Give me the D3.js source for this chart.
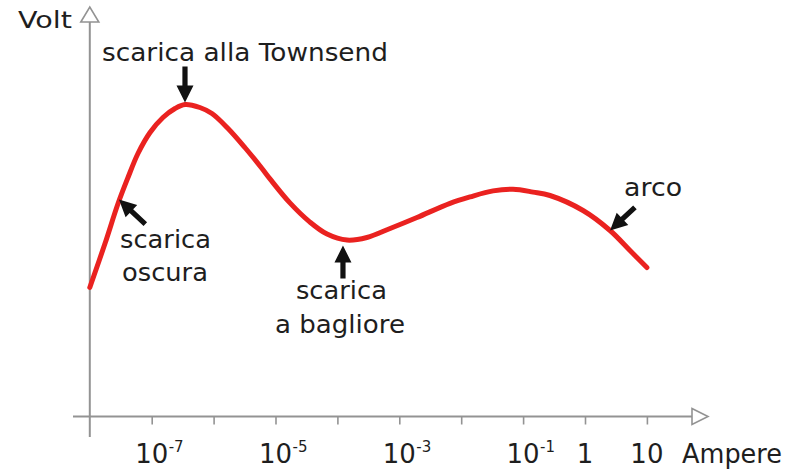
<!DOCTYPE html>
<html>
<head>
<meta charset="utf-8">
<script src="https://cdn.jsdelivr.net/npm/d3@7"></script>
<style>
  html, body { margin: 0; padding: 0; background: #fff; }
  svg { display: block; }
  text { font-family: "DejaVu Sans", sans-serif; fill: #1e1e1e; }
</style>
</head>
<body>
<svg id="chart" width="800" height="473"></svg>
<script>
// ---- Data ----
const current = [1e-8, 1.76e-8, 2.86e-8, 4.14e-8, 6.0e-8, 9.4e-8, 1.52e-7, 2.38e-7, 3.45e-7,
  6.0e-7, 9.4e-7, 1.71e-6, 3.2e-6, 6.05e-6, 8.15e-6, 1.71e-5, 3.6e-5, 6.8e-5, 1.43e-4,
  3.0e-4, 7.1e-4, 1.93e-3, 6.6e-3, 1.39e-2, 3.27e-2, 6.87e-2, 0.145, 0.272, 0.93, 2.54, 5.33, 10];
const volt = [32.25, 43.25, 53.25, 59.75, 65.75, 71, 74.75, 77, 78,
  77.25, 75.75, 72, 67.25, 62, 59.4, 53.4, 48.6, 45.6, 44.1,
  44.75, 47, 49.75, 53.3, 54.9, 56.4, 56.8, 56.1, 55.25, 51.5, 46.5, 41.5, 37.25];

const tickValues = [1e-7, 1e-6, 1e-5, 1e-4, 1e-3, 1e-2, 1e-1, 1, 10];
const labelValues = [1e-7, 1e-5, 1e-3, 1e-1, 1, 10];
const labelBase = ["10", "10", "10", "10", "1", "10"];
const labelExp = ["-7", "-5", "-3", "-1", "", ""];

const xTitle = "Ampere";
const yTitle = "Volt";

const annotCurrent = [3.45e-7, 2.96e-8, 1.23e-4, 2.54];
const annotVolt = [78.5, 54.25, 42.75, 46.5];
const annotLines = [["scarica alla Townsend"], ["scarica", "oscura"], ["scarica", "a bagliore"], ["arco"]];

// ---- Layout ----
const svg = d3.select("#chart");
const x = d3.scaleLog().domain([1e-8, 1e2]).range([89.8, 708.8]);
const y = d3.scaleLinear().domain([0, 100]).range([416.5, 16.5]);

const axisColor = "#939393";
const x0 = x(1e-8), y0 = y(0);

// x axis ticks via d3 axis
const xAxis = d3.axisBottom(x).tickValues(tickValues).tickFormat(() => "").tickSizeInner(8).tickSizeOuter(0);
const gx = svg.append("g").attr("transform", `translate(0,${y0})`).call(xAxis);
gx.select(".domain").remove();
gx.selectAll(".tick line").attr("stroke", axisColor).attr("stroke-width", 1.6);

svg.append("line").attr("x1", 73).attr("x2", 692).attr("y1", y0).attr("y2", y0)
  .attr("stroke", axisColor).attr("stroke-width", 2);
svg.append("line").attr("x1", x0).attr("x2", x0).attr("y1", 437).attr("y2", 22)
  .attr("stroke", axisColor).attr("stroke-width", 2);

// open arrowheads
svg.append("path")
  .attr("d", `M${x0 - 9},22 L${x0},7 L${x0 + 9},22 Z`)
  .attr("fill", "#fff").attr("stroke", axisColor).attr("stroke-width", 1.6);
svg.append("path")
  .attr("d", `M692,${y0 - 8} L708,${y0} L692,${y0 + 8} Z`)
  .attr("fill", "#fff").attr("stroke", axisColor).attr("stroke-width", 1.6);

// tick labels
labelValues.forEach((v, i) => {
  const cx = x(v);
  svg.append("text").attr("x", cx).attr("y", 463).attr("text-anchor", "middle")
    .attr("font-size", 26).text(labelBase[i]);
  if (labelExp[i]) {
    svg.append("text").attr("x", cx + 17).attr("y", 452).attr("text-anchor", "start")
      .attr("font-size", 15).text(labelExp[i]);
  }
});

svg.append("text").attr("x", 682).attr("y", 463).attr("font-size", 26)
  .attr("textLength", 100).attr("lengthAdjust", "spacingAndGlyphs").text(xTitle);
svg.append("text").attr("x", 18).attr("y", 28).attr("font-size", 23)
  .attr("textLength", 54).attr("lengthAdjust", "spacingAndGlyphs").text(yTitle);

// curve
const pts = current.map((c, i) => [c, volt[i]]);
const line = d3.line().x(d => x(d[0])).y(d => y(d[1])).curve(d3.curveCatmullRom.alpha(0.5));
svg.append("path").datum(pts).attr("d", line)
  .attr("fill", "none").attr("stroke", "#ea2220").attr("stroke-width", 5)
  .attr("stroke-linecap", "round").attr("stroke-linejoin", "round");

// annotation arrows
function arrow(tx, ty, angleDeg, len) {
  const a = angleDeg * Math.PI / 180;
  const ux = Math.cos(a), uy = Math.sin(a);    // direction from tip toward tail
  const px = -uy, py = ux;
  const headLen = 17, headHalf = 8.5, shaft = 2.6;
  const bx = tx + ux * headLen, by = ty + uy * headLen;
  const ex = tx + ux * len, ey = ty + uy * len;
  const p = [
    [tx, ty],
    [bx + px * headHalf, by + py * headHalf],
    [bx + px * shaft, by + py * shaft],
    [ex + px * shaft, ey + py * shaft],
    [ex - px * shaft, ey - py * shaft],
    [bx - px * shaft, by - py * shaft],
    [bx - px * headHalf, by - py * headHalf]
  ];
  svg.append("path").attr("d", "M" + p.map(q => q.join(",")).join("L") + "Z").attr("fill", "#111");
}

// per-annotation arrow direction and label placement (relative to tip)
const arrowAngle = [-90, 43, 90, -43];
const arrowLen = [36, 36, 33, 34];
const labelDx = [[60], [1, 3], [-1.5, -3], [43]];
const labelDy = [[-42], [48, 81], [53, 87], [-35]];
const labelAnchor = ["middle", "start", "middle", "middle"];
const labelWidth = [[286], [91, 86], [91, 130], [58]];

annotCurrent.forEach((c, i) => {
  const tx = x(c), ty = y(annotVolt[i]);
  arrow(tx, ty, arrowAngle[i], arrowLen[i]);
  annotLines[i].forEach((t, j) => {
    svg.append("text").attr("x", tx + labelDx[i][j]).attr("y", ty + labelDy[i][j])
      .attr("text-anchor", labelAnchor[i]).attr("font-size", 25)
      .attr("textLength", labelWidth[i][j]).attr("lengthAdjust", "spacingAndGlyphs")
      .text(t);
  });
});
</script>
</body>
</html>
